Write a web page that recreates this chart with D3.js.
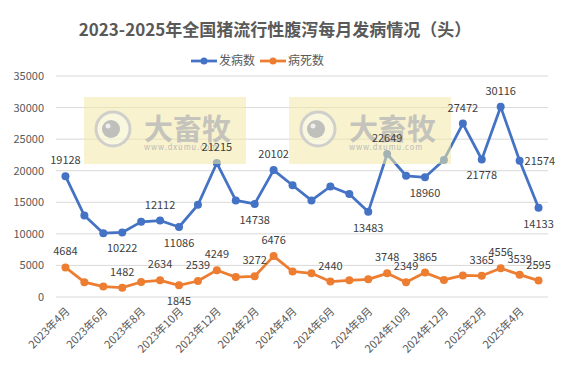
<!DOCTYPE html>
<html>
<head>
<meta charset="utf-8">
<script src="https://cdn.jsdelivr.net/npm/d3@7"></script>
<style>
  body { margin: 0; background: #fff; }
  text { font-family: "Microsoft YaHei", "Noto Sans CJK SC", sans-serif; }
</style>
</head>
<body>
<svg width="567" height="371"></svg>
<script>
// months, Apr 2023 .. May 2025
var months = ["2023年4月","2023年5月","2023年6月","2023年7月","2023年8月","2023年9月","2023年10月","2023年11月","2023年12月",
              "2024年1月","2024年2月","2024年3月","2024年4月","2024年5月","2024年6月","2024年7月","2024年8月","2024年9月",
              "2024年10月","2024年11月","2024年12月","2025年1月","2025年2月","2025年3月","2025年4月","2025年5月"];
var sick = [19128, 12900, 10100, 10222, 11900, 12112, 11086, 14600, 21215,
            15300, 14738, 20102, 17700, 15300, 17500, 16300, 13483, 22649,
            19200, 18960, 21700, 27472, 21778, 30116, 21574, 14133];
var dead = [4684, 2350, 1650, 1482, 2380, 2634, 1845, 2539, 4249,
            3150, 3272, 6476, 4050, 3750, 2440, 2650, 2800, 3748,
            2349, 3865, 2700, 3420, 3365, 4556, 3539, 2595];
var yTicks = [0, 5000, 10000, 15000, 20000, 25000, 30000, 35000];
// which points carry a value label, and where
var sickLabels = [[0,"up"],[3,"down"],[5,"up"],[6,"down"],[8,"up"],[10,"down"],[11,"up"],[16,"down"],
                  [17,"up"],[19,"down"],[21,"up"],[22,"down"],[23,"up"],[24,"right"],[25,"down"]];
var deadLabels = [[0,"up"],[3,"up"],[5,"up"],[6,"down"],[7,"up"],[8,"up"],[10,"up"],[11,"up"],[14,"up"],
                  [17,"up"],[18,"up"],[19,"up"],[22,"up"],[23,"up"],[24,"up"],[25,"up"]];

function main() {
    var svg = d3.select("svg");
    var left = 56, right = 548, top = 76, bottom = 297;

    svg.append("text")
       .attr("x", 275).attr("y", 36)
       .attr("text-anchor", "middle")
       .attr("font-size", "17px").attr("font-weight", "bold")
       .attr("fill", "#595959")
       .text("2023-2025年全国猪流行性腹泻每月发病情况（头）");

    var x = d3.scaleBand().domain(months).range([left, right]);
    var y = d3.scaleLinear().domain([0, 35000]).range([bottom, top]);
    var cx = function(i) { return x(months[i]) + x.bandwidth() / 2; };

    // grid
    svg.append("g").selectAll("line").data(yTicks).enter().append("line")
       .attr("x1", left).attr("x2", right)
       .attr("y1", function(d) { return y(d); }).attr("y2", function(d) { return y(d); })
       .attr("stroke", "#d9d9d9").attr("stroke-width", 1);

    var yAxis = svg.append("g").attr("transform", "translate(" + left + ",0)")
       .call(d3.axisLeft(y).tickValues(yTicks).tickSize(0).tickPadding(12).tickFormat(d3.format("d")));
    yAxis.select(".domain").remove();
    yAxis.selectAll("text").attr("font-size", "11px").attr("fill", "#595959");

    var xAxis = svg.append("g").attr("transform", "translate(0," + bottom + ")")
       .call(d3.axisBottom(x).tickValues(months.filter(function(d, i) { return i % 2 == 0; })).tickSize(0));
    xAxis.select(".domain").remove();
    xAxis.selectAll("text")
       .attr("font-size", "11px").attr("fill", "#595959")
       .attr("text-anchor", "end")
       .attr("dy", null).attr("y", 0)
       .attr("transform", "translate(5,15) rotate(-45)");

    var series = [
        { vals: sick, color: "#4472C4", labels: sickLabels },
        { vals: dead, color: "#ED7D31", labels: deadLabels }
    ];

    var line = d3.line().x(function(d, i) { return cx(i); }).y(function(d) { return y(d); });

    series.forEach(function(s) {
        svg.append("path").datum(s.vals)
           .attr("d", line).attr("fill", "none")
           .attr("stroke", s.color).attr("stroke-width", 2.75)
           .attr("stroke-linejoin", "round");
        svg.append("g").selectAll("circle").data(s.vals).enter().append("circle")
           .attr("cx", function(d, i) { return cx(i); })
           .attr("cy", function(d) { return y(d); })
           .attr("r", 4).attr("fill", s.color);
    });

    // watermarks (drawn over the lines, semi transparent)
    [84, 289].forEach(function(wx) {
        var w = svg.append("g").attr("transform", "translate(" + wx + ",97)");
        w.append("rect").attr("width", 162).attr("height", 67)
         .attr("fill", "#f3e9a6").attr("opacity", 0.55);
        w.append("circle").attr("cx", 29).attr("cy", 32).attr("r", 17)
         .attr("fill", "#fff").attr("fill-opacity", 0.4)
         .attr("stroke", "#cccccc").attr("stroke-width", 3).attr("opacity", 0.9);
        w.append("circle").attr("cx", 27).attr("cy", 32).attr("r", 9)
         .attr("fill", "#b8b8b8").attr("opacity", 0.9);
        w.append("circle").attr("cx", 24).attr("cy", 29).attr("r", 2.5).attr("fill", "#eee");
        w.append("text").attr("x", 60).attr("y", 43)
         .attr("font-size", "29px").attr("font-weight", "bold")
         .attr("fill", "#b8b8b8").attr("opacity", 0.8)
         .text("大畜牧");
        w.append("text").attr("x", 60).attr("y", 53)
         .attr("font-size", "7.5px").attr("letter-spacing", "1px")
         .attr("fill", "#b8b8b8")
         .text("www.dxumu.com");
    });

    // value labels
    series.forEach(function(s) {
        svg.append("g").selectAll("text").data(s.labels).enter().append("text")
           .attr("x", function(d) { return d[1] == "right" ? cx(d[0]) + 5 : cx(d[0]); })
           .attr("y", function(d) {
               var py = y(s.vals[d[0]]);
               if (d[1] == "up") return py - 12;
               if (d[1] == "down") return py + 20;
               return py + 4;
           })
           .attr("text-anchor", function(d) { return d[1] == "right" ? "start" : "middle"; })
           .attr("font-size", "11px").attr("fill", "#404040")
           .text(function(d) { return s.vals[d[0]]; });
    });

    // legend
    var legend = [["发病数", "#4472C4", 191], ["病死数", "#ED7D31", 260]];
    legend.forEach(function(l) {
        var g = svg.append("g").attr("transform", "translate(" + l[2] + ",61)");
        g.append("line").attr("x1", 0).attr("x2", 26).attr("stroke", l[1]).attr("stroke-width", 2.75);
        g.append("circle").attr("cx", 13).attr("r", 3.5).attr("fill", l[1]);
        g.append("text").attr("x", 28).attr("y", 4).attr("font-size", "12px").attr("fill", "#595959").text(l[0]);
    });
}
main();
</script>
</body>
</html>
